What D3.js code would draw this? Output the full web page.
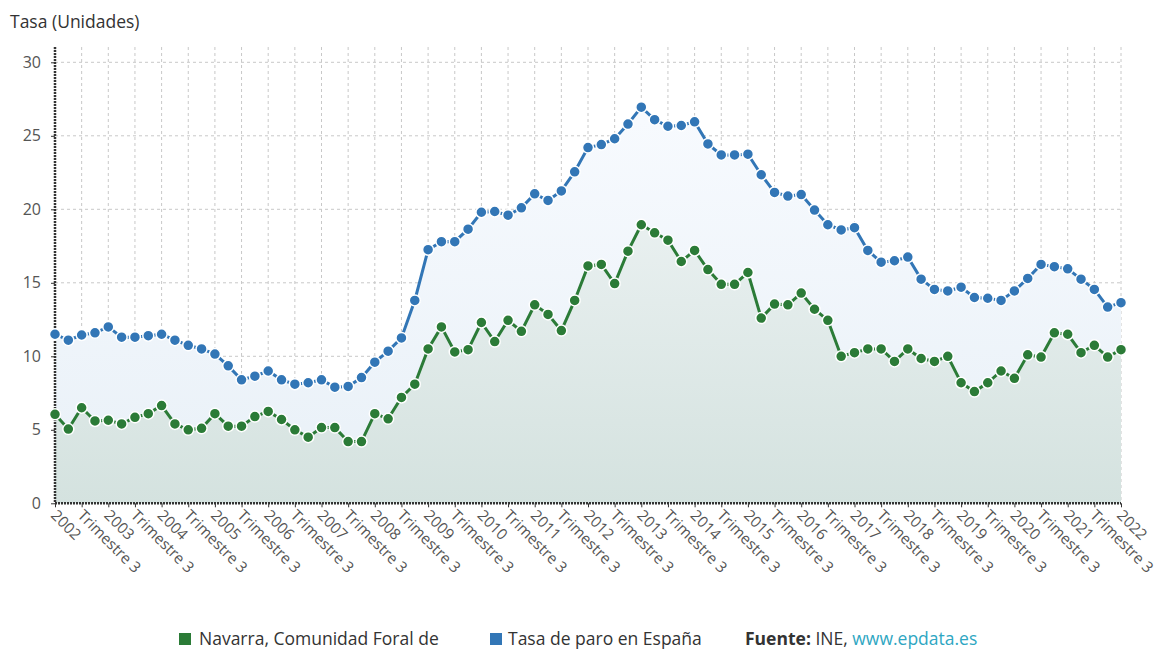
<!DOCTYPE html>
<html>
<head>
<meta charset="utf-8">
<script src="https://cdn.jsdelivr.net/npm/d3@7"></script>
<style>
  html, body { margin: 0; padding: 0; background: #fff; }
  svg { display: block; font-family: "Open Sans", "Noto Sans", sans-serif; }
</style>
</head>
<body>
<svg id="chart" width="1158" height="651"></svg>
<script>
// Years shown on the axis (quarterly data, 2002 T1 .. 2022 T1)
const years = [2002, 2003, 2004, 2005, 2006, 2007, 2008, 2009, 2010, 2011, 2012,
  2013, 2014, 2015, 2016, 2017, 2018, 2019, 2020, 2021, 2022];
const quarterNames = ['Trimestre 1', 'Trimestre 2', 'Trimestre 3', 'Trimestre 4'];

// Tasa de paro en España (%)
const espana = [
  11.5, 11.1, 11.45, 11.6, 12.0, 11.3, 11.3, 11.4, 11.5, 11.1, 10.75, 10.5,
  10.15, 9.35, 8.4, 8.65, 9.0, 8.4, 8.1, 8.2, 8.4, 7.9, 7.95, 8.55,
  9.6, 10.35, 11.25, 13.8, 17.25, 17.8, 17.8, 18.65, 19.8, 19.85, 19.6, 20.1,
  21.05, 20.6, 21.25, 22.55, 24.2, 24.4, 24.8, 25.8, 26.95, 26.1, 25.65, 25.7,
  25.95, 24.45, 23.7, 23.7, 23.75, 22.35, 21.15, 20.9, 21.0, 19.95, 18.95, 18.6,
  18.75, 17.2, 16.4, 16.5, 16.75, 15.25, 14.55, 14.45, 14.7, 14.0, 13.95, 13.8,
  14.45, 15.3, 16.25, 16.1, 15.95, 15.25, 14.55, 13.35, 13.65
];

// Navarra, Comunidad Foral de (%)
const navarra = [
  6.05, 5.05, 6.5, 5.6, 5.65, 5.4, 5.85, 6.1, 6.65, 5.4, 5.0, 5.1,
  6.1, 5.25, 5.25, 5.9, 6.25, 5.7, 5.0, 4.5, 5.15, 5.15, 4.2, 4.2,
  6.1, 5.75, 7.2, 8.1, 10.5, 12.0, 10.3, 10.45, 12.3, 11.0, 12.45, 11.7,
  13.5, 12.85, 11.75, 13.8, 16.15, 16.25, 14.95, 17.15, 18.95, 18.4, 17.9, 16.45,
  17.2, 15.9, 14.9, 14.9, 15.7, 12.6, 13.55, 13.5, 14.3, 13.2, 12.45, 10.0,
  10.25, 10.5, 10.5, 9.65, 10.5, 9.85, 9.65, 10.0, 8.2, 7.6, 8.2, 9.0,
  8.5, 10.1, 9.95, 11.6, 11.5, 10.25, 10.75, 9.95, 10.45
];

const yTicks = [0, 5, 10, 15, 20, 25, 30];

// Quarter categories
const categories = [];
years.forEach(y => quarterNames.forEach((q, i) => categories.push({ key: y + '-' + (i + 1), year: y, q: i + 1 })));
const cats = categories.slice(0, espana.length);

const svg = d3.select('#chart');
const left = 55, right = 1121, bottom = 503.3, plotTop = 47;

const x = d3.scalePoint().domain(cats.map(c => c.key)).range([left, right]);
const y = d3.scaleLinear().domain([0, 30]).range([bottom, 62.3]);

const BLUE = '#3276b6';
const GREEN = '#2b7b37';

// Gradients
const defs = svg.append('defs');
const gBlue = defs.append('linearGradient').attr('id', 'gradBlue')
  .attr('gradientUnits', 'userSpaceOnUse').attr('x1', 0).attr('y1', 120).attr('x2', 0).attr('y2', bottom);
gBlue.append('stop').attr('offset', 0).attr('stop-color', '#f7fafe');
gBlue.append('stop').attr('offset', 1).attr('stop-color', '#e8f0f7');
const gGreen = defs.append('linearGradient').attr('id', 'gradGreen')
  .attr('gradientUnits', 'userSpaceOnUse').attr('x1', 0).attr('y1', 220).attr('x2', 0).attr('y2', bottom);
gGreen.append('stop').attr('offset', 0).attr('stop-color', '#e9f0f0');
gGreen.append('stop').attr('offset', 1).attr('stop-color', '#d4e2df');

// Title
svg.append('text').attr('x', 10).attr('y', 28)
  .attr('font-size', 17.5).attr('fill', '#333').text('Tasa (Unidades)');

// Horizontal grid
svg.append('g').selectAll('line').data(yTicks.filter(t => t > 0)).join('line')
  .attr('x1', left).attr('x2', right)
  .attr('y1', d => y(d)).attr('y2', d => y(d))
  .attr('stroke', '#c8c8c8').attr('stroke-dasharray', '3,3');

// Vertical grid (every 2 quarters)
const tickCats = cats.filter((c, i) => i % 2 === 0);
svg.append('g').selectAll('line').data(tickCats).join('line')
  .attr('x1', d => x(d.key)).attr('x2', d => x(d.key))
  .attr('y1', plotTop).attr('y2', bottom)
  .attr('stroke', '#c8c8c8').attr('stroke-dasharray', '3,3');

// Areas
const area = vals => d3.area()
  .x((d, i) => x(cats[i].key)).y0(y(0)).y1(d => y(d))(vals);
svg.append('path').attr('d', area(espana)).attr('fill', 'url(#gradBlue)');
svg.append('path').attr('d', area(navarra)).attr('fill', 'url(#gradGreen)');

// Axes
const yAxis = svg.append('g').attr('transform', `translate(${left},0)`)
  .call(d3.axisLeft(y).tickValues(yTicks).tickSize(4).tickPadding(10));
yAxis.select('.domain').attr('d', `M0,${plotTop}V${bottom}`)
  .attr('stroke', '#333').attr('stroke-width', 2.5).attr('stroke-dasharray', '2,1');
yAxis.selectAll('.tick line').attr('stroke', '#333');
yAxis.selectAll('.tick text').attr('font-size', 16).attr('fill', '#555')
  .attr('font-family', '"Open Sans", sans-serif');

const xAxis = svg.append('g').attr('transform', `translate(0,${bottom})`)
  .call(d3.axisBottom(x).tickValues(tickCats.map(c => c.key)).tickSize(4).tickFormat(''));
xAxis.select('.domain').attr('d', `M${left},0H${right}`)
  .attr('stroke', '#333').attr('stroke-width', 2.5).attr('stroke-dasharray', '2,1');
xAxis.selectAll('.tick line').attr('stroke', '#333');

// Rotated x labels
svg.append('g').selectAll('text').data(tickCats).join('text')
  .attr('transform', d => `translate(${x(d.key) - 5},${bottom + 13}) rotate(45)`)
  .attr('font-size', 15.3).attr('fill', '#555')
  .text(d => d.q === 1 ? String(d.year) : quarterNames[d.q - 1]);

// Lines and markers
function series(vals, color) {
  const line = d3.line().x((d, i) => x(cats[i].key)).y(d => y(d));
  svg.append('path').attr('d', line(vals)).attr('fill', 'none')
    .attr('stroke', color).attr('stroke-width', 3);
  svg.append('g').selectAll('circle').data(vals).join('circle')
    .attr('cx', (d, i) => x(cats[i].key)).attr('cy', d => y(d))
    .attr('r', 5.5).attr('fill', color)
    .attr('stroke', '#fff').attr('stroke-width', 1.5);
}
series(espana, BLUE);
series(navarra, GREEN);

// Legend
const lg = svg.append('g').attr('font-size', 17.5).attr('fill', '#333');
lg.append('rect').attr('x', 179).attr('y', 633).attr('width', 12).attr('height', 12).attr('fill', GREEN);
lg.append('text').attr('x', 199).attr('y', 645).text('Navarra, Comunidad Foral de');
lg.append('rect').attr('x', 490).attr('y', 633).attr('width', 12).attr('height', 12).attr('fill', BLUE);
lg.append('text').attr('x', 508).attr('y', 645).text('Tasa de paro en España');
const src = lg.append('text').attr('x', 745).attr('y', 645);
src.append('tspan').attr('font-weight', 'bold').text('Fuente:');
src.append('tspan').text(' INE, ');
src.append('tspan').attr('fill', '#2ea6c2').text('www.epdata.es');
</script>
</body>
</html>
